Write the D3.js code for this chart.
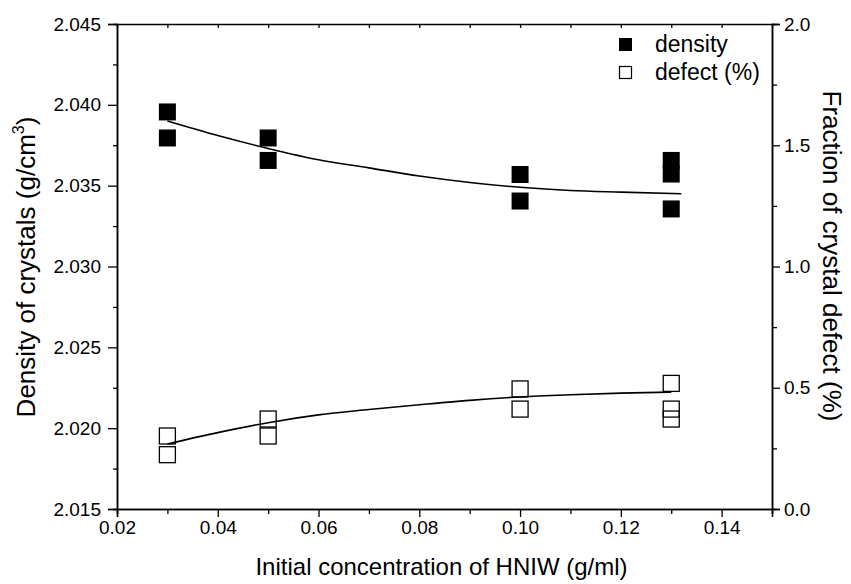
<!DOCTYPE html>
<html>
<head>
<meta charset="utf-8">
<script src="https://cdn.jsdelivr.net/npm/d3@7"></script>
<style>
  html, body { margin: 0; padding: 0; background: #fff; }
  svg text { font-family: "Liberation Sans", Arial, sans-serif; fill: #000; }
</style>
</head>
<body>
<svg id="chart" width="851" height="584"></svg>
<script>
// Measured points: repeat measurements per concentration
const densityX = [0.03, 0.03, 0.05, 0.05, 0.10, 0.10, 0.13, 0.13, 0.13];
const densityY = [2.03956, 2.03795, 2.03795, 2.03656, 2.03569, 2.03405, 2.03656, 2.03572, 2.03356];
const defectX = [0.03, 0.03, 0.05, 0.05, 0.10, 0.10, 0.13, 0.13, 0.13];
const defectY = [0.301, 0.224, 0.371, 0.301, 0.495, 0.412, 0.518, 0.412, 0.371];

// Fitted trend curves
const densityFitX = [0.03, 0.04, 0.05, 0.06, 0.07, 0.08, 0.09, 0.10, 0.11, 0.12, 0.132];
const densityFitY = [2.0390, 2.0381, 2.0373, 2.0366, 2.0361, 2.0356, 2.0352, 2.0349, 2.0347, 2.0346, 2.0345];
const defectFitX = [0.03, 0.04, 0.05, 0.06, 0.07, 0.08, 0.09, 0.10, 0.11, 0.12, 0.13];
const defectFitY = [0.268, 0.315, 0.356, 0.388, 0.410, 0.430, 0.448, 0.462, 0.471, 0.478, 0.482];

// Axis ticks
const xTicks = [0.02, 0.04, 0.06, 0.08, 0.10, 0.12, 0.14];
const xMinor = [0.03, 0.05, 0.07, 0.09, 0.11, 0.13, 0.15];
const yLeftTicks = [2.015, 2.020, 2.025, 2.030, 2.035, 2.040, 2.045];
const yLeftMinor = [2.0175, 2.0225, 2.0275, 2.0325, 2.0375, 2.0425];
const yRightTicks = [0.0, 0.5, 1.0, 1.5, 2.0];
const yRightMinor = [0.25, 0.75, 1.25, 1.75];

const svg = d3.select("#chart");
const W = 851, H = 584;
const m = { left: 117, top: 24, right: 79, bottom: 75 };
const pw = W - m.left - m.right, ph = H - m.top - m.bottom;

const x = d3.scaleLinear().domain([0.02, 0.15]).range([m.left, m.left + pw]);
const yL = d3.scaleLinear().domain([2.015, 2.045]).range([m.top + ph, m.top]);
const yR = d3.scaleLinear().domain([0, 2.0]).range([m.top + ph, m.top]);

const tickFs = 19, titleFs = 24, sideTitleFs = 26, legendFs = 23;

// Bottom axis
svg.append("g").attr("transform", `translate(0,${m.top + ph})`)
  .call(d3.axisBottom(x).tickValues(xTicks).tickFormat(d3.format(".2f")).tickSize(8).tickPadding(4));
svg.append("g").attr("transform", `translate(0,${m.top + ph})`)
  .call(d3.axisBottom(x).tickValues(xMinor).tickFormat("").tickSize(5));

// Top frame with small inward ticks
svg.append("g").attr("transform", `translate(0,${m.top})`)
  .call(d3.axisBottom(x).tickValues(xTicks.concat(xMinor)).tickFormat("").tickSize(4).tickSizeOuter(0));

// Left axis
svg.append("g").attr("transform", `translate(${m.left},0)`)
  .call(d3.axisLeft(yL).tickValues(yLeftTicks).tickFormat(d3.format(".3f")).tickSize(9).tickPadding(7));
svg.append("g").attr("transform", `translate(${m.left},0)`)
  .call(d3.axisLeft(yL).tickValues(yLeftMinor).tickFormat("").tickSize(4));

// Right axis
svg.append("g").attr("transform", `translate(${m.left + pw},0)`)
  .call(d3.axisRight(yR).tickValues(yRightTicks).tickFormat(d3.format(".1f")).tickSize(8).tickPadding(4));
svg.append("g").attr("transform", `translate(${m.left + pw},0)`)
  .call(d3.axisRight(yR).tickValues(yRightMinor).tickFormat("").tickSize(5));

svg.selectAll(".domain").attr("stroke", "#000").attr("stroke-width", 1.5);
svg.selectAll(".tick line").attr("stroke", "#000").attr("stroke-width", 1.3);
svg.selectAll(".tick text").attr("font-size", tickFs).attr("font-family", "Liberation Sans, Arial, sans-serif");

// Fitted curves
const lineD = d3.line().x((d, i) => x(densityFitX[i])).y(d => yL(d)).curve(d3.curveMonotoneX);
const lineF = d3.line().x((d, i) => x(defectFitX[i])).y(d => yR(d)).curve(d3.curveMonotoneX);
svg.append("path").attr("d", lineD(densityFitY)).attr("fill", "none").attr("stroke", "#000").attr("stroke-width", 1.6);
svg.append("path").attr("d", lineF(defectFitY)).attr("fill", "none").attr("stroke", "#000").attr("stroke-width", 1.6);

// Markers
const s = 17;
svg.append("g").selectAll("rect").data(densityY).join("rect")
  .attr("x", (d, i) => x(densityX[i]) - s / 2).attr("y", d => yL(d) - s / 2)
  .attr("width", s).attr("height", s).attr("fill", "#000");
const so = 16;
svg.append("g").selectAll("rect").data(defectY).join("rect")
  .attr("x", (d, i) => x(defectX[i]) - so / 2).attr("y", d => yR(d) - so / 2)
  .attr("width", so).attr("height", so).attr("fill", "none").attr("stroke", "#000").attr("stroke-width", 1.3);

// Legend
const lg = svg.append("g");
lg.append("rect").attr("x", 619).attr("y", 38).attr("width", 13).attr("height", 13).attr("fill", "#000");
lg.append("text").attr("x", 655).attr("y", 52).attr("font-size", legendFs).text("density");
lg.append("rect").attr("x", 619.5).attr("y", 66.5).attr("width", 12).attr("height", 12)
  .attr("fill", "none").attr("stroke", "#000").attr("stroke-width", 1.2);
lg.append("text").attr("x", 655).attr("y", 80).attr("font-size", legendFs).text("defect (%)");

// Axis titles
svg.append("text").attr("x", m.left + pw / 2 - 3).attr("y", 575).attr("text-anchor", "middle")
  .attr("font-size", titleFs).text("Initial concentration of HNIW (g/ml)");

const lt = svg.append("text").attr("transform", `translate(35,267) rotate(-90)`)
  .attr("text-anchor", "middle").attr("font-size", sideTitleFs);
lt.append("tspan").text("Density of crystals (g/cm");
lt.append("tspan").attr("font-size", 16).attr("dy", -11).text("3");
lt.append("tspan").attr("dy", 11).text(")");

svg.append("text").attr("transform", `translate(823,256) rotate(90)`)
  .attr("text-anchor", "middle").attr("font-size", sideTitleFs).text("Fraction of crystal defect (%)");
</script>
</body>
</html>
